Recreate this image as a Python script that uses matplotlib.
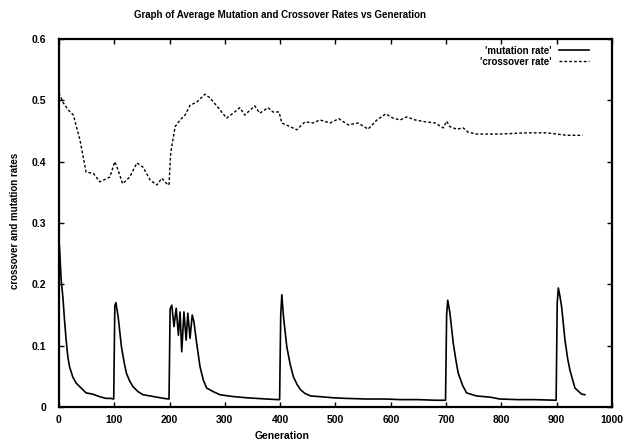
import matplotlib
matplotlib.use("Agg")
import matplotlib.pyplot as plt

# mutation rate (generation, value)
mut_gen = [0, 1, 4, 7, 10, 13, 16, 19, 25, 31, 40, 49, 61, 73, 85, 94, 99,
           101, 103, 107, 113, 118, 122, 128, 134, 143, 152, 165, 177, 190, 199,
           201, 204, 208, 212, 216, 219, 222, 226, 230, 233, 237, 241, 244, 249,
           255, 261, 267, 279, 291, 315, 340, 375, 396, 399,
           401, 403, 406, 412, 418, 424, 431, 437, 445, 455, 470, 496, 520, 556,
           590, 617, 650, 680, 699,
           701, 703, 707, 713, 718, 722, 730, 737, 755, 780, 797, 830, 860, 899,
           901, 903, 906, 909, 915, 920, 924, 933, 945, 951]
mut_val = [0.27, 0.26, 0.207, 0.18, 0.142, 0.109, 0.082, 0.066, 0.049, 0.039, 0.031, 0.023, 0.021, 0.017, 0.014, 0.014, 0.013,
           0.165, 0.17, 0.147, 0.098, 0.072, 0.055, 0.042, 0.033, 0.025, 0.020, 0.018, 0.016, 0.014, 0.013,
           0.16, 0.166, 0.131, 0.161, 0.117, 0.155, 0.090, 0.155, 0.109, 0.153, 0.112, 0.150, 0.139, 0.104,
           0.066, 0.044, 0.031, 0.025, 0.020, 0.017, 0.015, 0.013, 0.012, 0.012,
           0.15, 0.183, 0.147, 0.098, 0.07, 0.049, 0.036, 0.028, 0.022, 0.018, 0.017, 0.015, 0.014, 0.013,
           0.013, 0.012, 0.012, 0.011, 0.011,
           0.15, 0.174, 0.153, 0.104, 0.075, 0.055, 0.035, 0.023, 0.018, 0.016, 0.013, 0.012, 0.012, 0.011,
           0.17, 0.194, 0.18, 0.163, 0.109, 0.078, 0.06, 0.031, 0.021, 0.02]

# crossover rate
cross_gen = [0, 7, 17, 26, 38, 49, 62, 74, 92, 101, 107, 115, 128, 141, 152, 165, 177, 186, 195, 199,
             202, 210, 219, 228, 237, 249, 264, 273, 288, 303, 315, 327, 336, 354, 363, 378, 387, 398,
             403, 418, 430, 445, 459, 472, 490, 506, 523, 541, 559, 575, 591, 604, 617, 629, 644, 662,
             680, 695, 701, 707, 719, 731, 740, 755, 797, 846, 882, 900, 918, 947]
cross_val = [0.512, 0.497, 0.484, 0.476, 0.435, 0.383, 0.381, 0.367, 0.375, 0.40, 0.386, 0.364, 0.375, 0.398,
             0.391, 0.370, 0.362, 0.373, 0.364, 0.362,
             0.414, 0.457, 0.468, 0.476, 0.492, 0.497, 0.510, 0.504, 0.488, 0.471, 0.479, 0.488, 0.476,
             0.491, 0.479, 0.488, 0.481, 0.481,
             0.463, 0.457, 0.452, 0.465, 0.463, 0.468, 0.463, 0.47, 0.46, 0.463, 0.453, 0.468, 0.478,
             0.471, 0.468, 0.473, 0.468, 0.465,
             0.463, 0.455, 0.466, 0.457, 0.453, 0.455, 0.448, 0.445, 0.445, 0.447, 0.447, 0.445, 0.443, 0.443]

xticks = list(range(0, 1001, 100))
yticks = [0, 0.1, 0.2, 0.3, 0.4, 0.5, 0.6]
ytick_labels = ["0", "0.1", "0.2", "0.3", "0.4", "0.5", "0.6"]

plt.rcParams['font.family'] = ['Liberation Sans', 'DejaVu Sans']

fig = plt.figure(figsize=(6.26, 4.42), dpi=100)
ax = fig.add_axes([0.0942, 0.0792, 0.8834, 0.8326])

ax.plot(mut_gen, mut_val, color='black', lw=1.2, label="'mutation rate'")
ax.plot(cross_gen, cross_val, color='black', lw=1.0, linestyle=(0, (2, 1.5)),
        label="'crossover rate'")

ax.set_xlim(0, 1000)
ax.set_ylim(0, 0.6)
ax.set_xticks(xticks)
ax.set_xticklabels([str(t) for t in xticks], fontsize=7.5, fontweight='bold')
ax.set_yticks(yticks)
ax.set_yticklabels(ytick_labels, fontsize=7.5, fontweight='bold')
ax.tick_params(direction='in', top=True, right=True, length=3.5, width=1)
ax.tick_params(axis='y', pad=9)
ax.tick_params(axis='x', pad=6)
for s in ax.spines.values():
    s.set_linewidth(1.6)

fig.text(0.448, 0.966, 'Graph of Average Mutation and Crossover Rates vs Generation',
         ha='center', va='center', fontsize=7, fontweight='bold')
fig.text(0.45, 0.014, 'Generation', ha='center', va='center', fontsize=7.5, fontweight='bold')
fig.text(0.024, 0.5, 'crossover and mutation rates', ha='center', va='center',
         rotation=90, fontsize=7, fontweight='bold')

leg = ax.legend(loc='upper right', bbox_to_anchor=(0.97, 1.0), frameon=False,
                markerfirst=False, fontsize=7, handlelength=3, handletextpad=0.8,
                labelspacing=0.1, borderaxespad=0.3)
for t in leg.get_texts():
    t.set_fontweight('bold')

fig.savefig('out.png', dpi=100)
